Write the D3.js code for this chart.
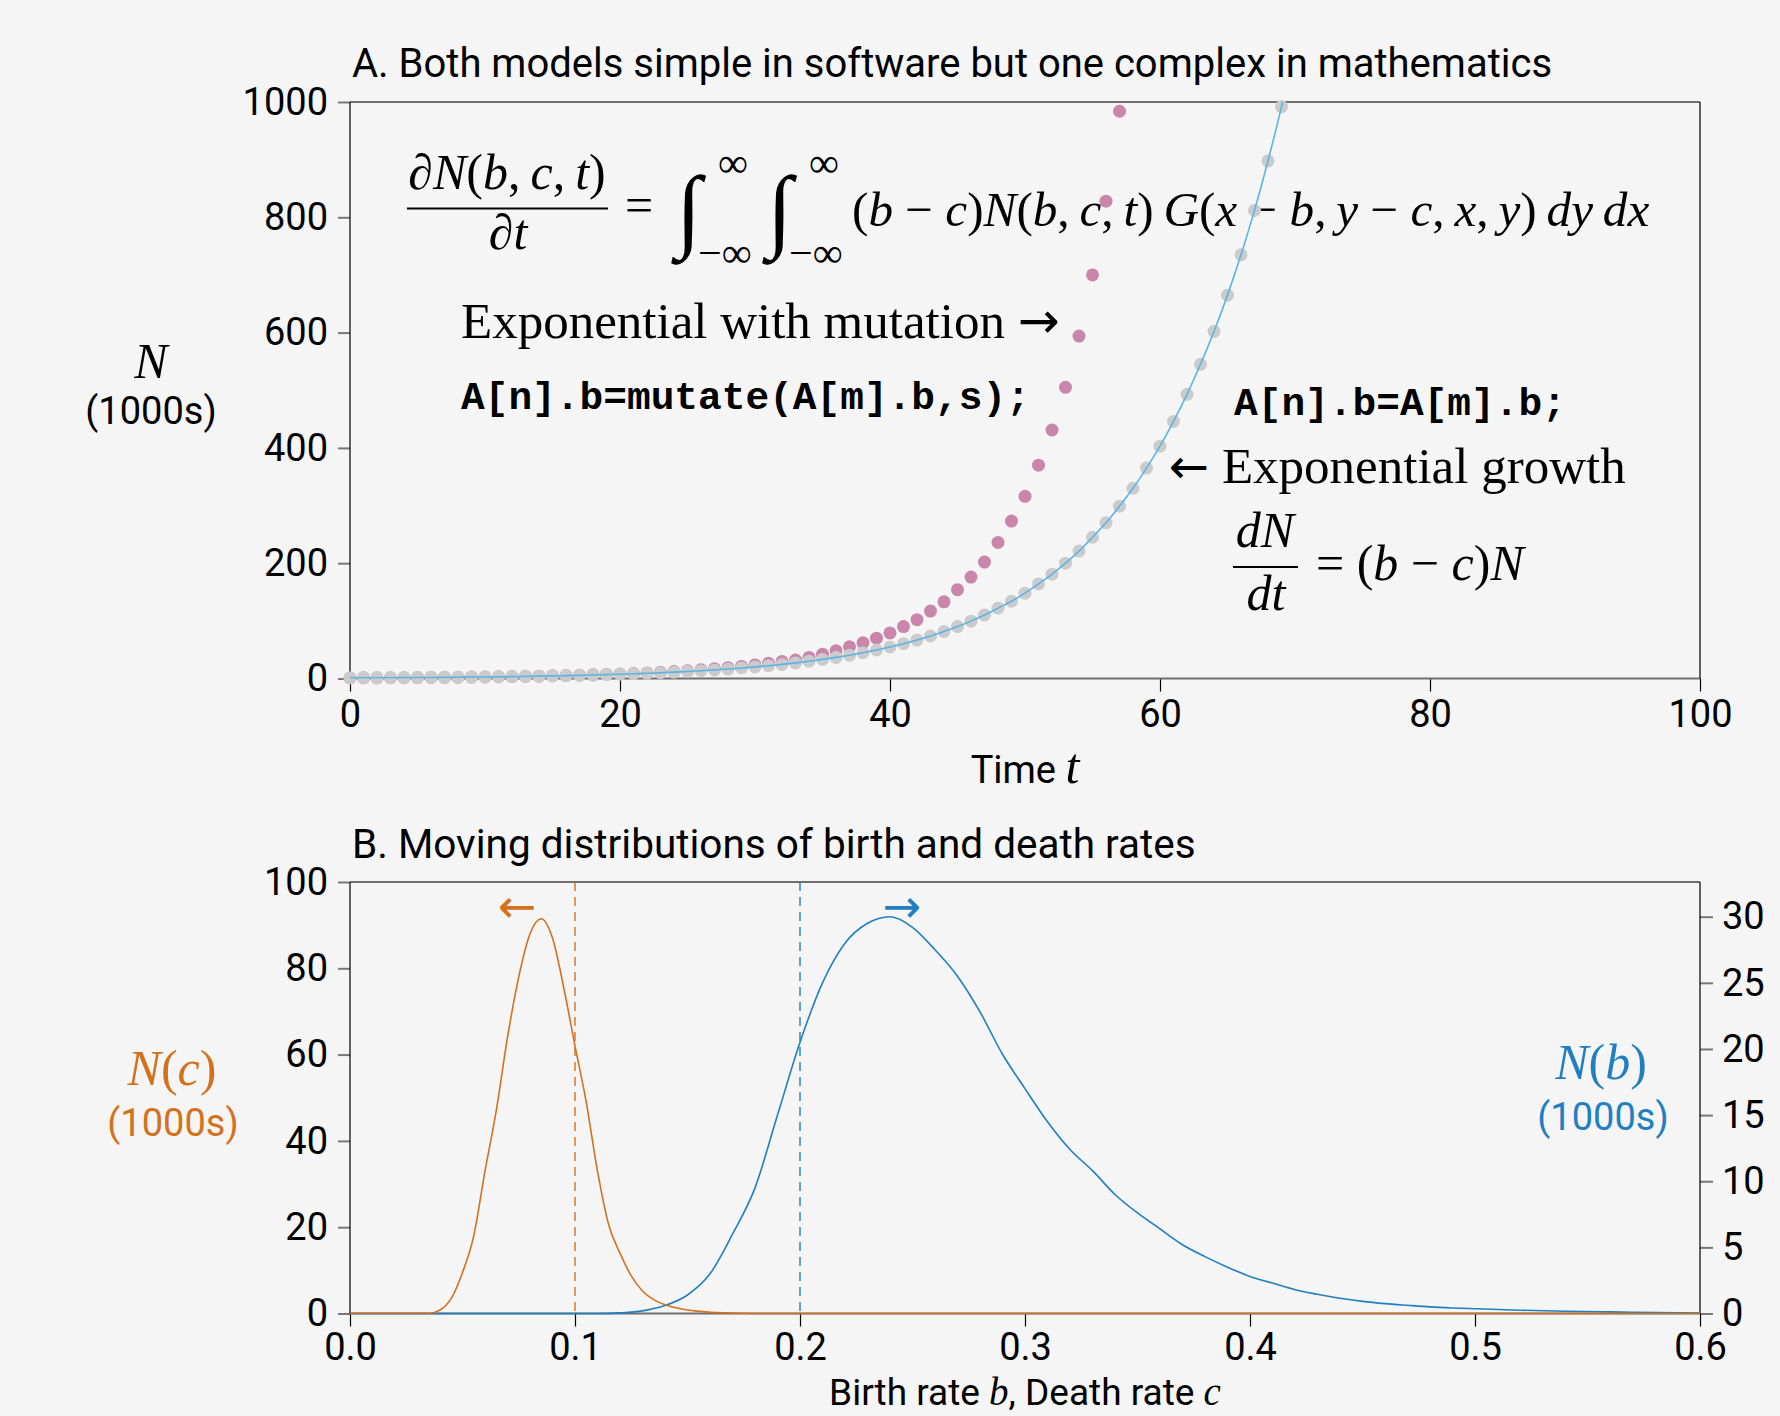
<!DOCTYPE html>
<html>
<head>
<meta charset="utf-8">
<script src="https://cdnjs.cloudflare.com/ajax/libs/d3/7.8.5/d3.min.js"></script>
<style>
  body { margin: 0; background: #f5f5f5; }
  svg { display: block; }
  text { white-space: pre; }
</style>
</head>
<body>
<div id="chart"></div>
<script>
// ---- data (index of each array = time step t) ----
// grey dots: simulated exponential growth, N in 1000s
var growthN = [1.0, 1.1, 1.2, 1.35, 1.5, 1.65, 1.8, 2.0, 2.2, 2.5, 2.7, 3.0, 3.3, 3.7, 4.1, 4.5, 5.0, 5.5, 6.0, 6.7,
  7.4, 8.2, 9.0, 10.0, 11.0, 12.2, 13.5, 14.9, 16.4, 18.2, 20.1, 22.2, 24.5, 27.1, 30.0, 33.1, 36.6, 40.4, 44.7, 49.4,
  54.6, 60.3, 66.7, 73.7, 81.5, 90.0, 99.5, 110, 122, 134, 148, 164, 181, 200, 221, 245, 270, 299, 330, 365,
  403, 446, 493, 545, 602, 665, 735, 812, 898, 992];
// pink dots: simulated exponential growth with mutation of b
var mutationN = [1.0, 1.1, 1.2, 1.35, 1.5, 1.65, 1.8, 2.0, 2.2, 2.5, 2.7, 3.0, 3.4, 3.7, 4.1, 4.6, 5.1, 5.6, 6.3, 7.0,
  7.8, 8.6, 9.6, 10.7, 12.0, 13.4, 15.0, 16.7, 18.8, 21.0, 23.6, 26.5, 29.5, 32, 36.5, 42, 48, 55, 62, 70,
  79, 90, 102, 117, 133, 154, 176, 202, 236, 273, 316, 370, 431, 505, 594, 700, 828, 984];
// blue line: dN/dt = (b - c)N solution, t = 0..70
var exactN = growthN.concat([1097]);

var yTicksA = [0, 200, 400, 600, 800, 1000];
var xTicksA = [0, 20, 40, 60, 80, 100];

// panel B: distributions (1000s)
var deathRates = [0, 0.035, 0.04, 0.045, 0.05, 0.055, 0.06, 0.065, 0.07, 0.075, 0.08, 0.085, 0.09, 0.095, 0.1,
  0.105, 0.11, 0.115, 0.12, 0.125, 0.13, 0.135, 0.14, 0.15, 0.16, 0.175, 0.185, 0.6];
var deathCounts = [0, 0, 0.8, 3.5, 9.5, 18, 33, 47, 64, 78, 88, 91.5, 87, 75.5, 62,
  49, 33, 20.5, 14, 8.7, 5.2, 3.2, 2.0, 0.8, 0.3, 0.05, 0, 0];
var birthRates = [0, 0.11, 0.12, 0.13, 0.14, 0.15, 0.16, 0.17, 0.18, 0.19, 0.2, 0.21, 0.22, 0.23, 0.24, 0.25, 0.26,
  0.27, 0.28, 0.29, 0.3, 0.31, 0.32, 0.33, 0.34, 0.35, 0.36, 0.37, 0.38, 0.39, 0.4, 0.41, 0.42, 0.43, 0.44, 0.45,
  0.46, 0.47, 0.48, 0.49, 0.5, 0.52, 0.54, 0.56, 0.58, 0.6];
var birthCounts = [0, 0, 0.05, 0.2, 0.6, 1.4, 3.0, 6.0, 9.5, 15.0, 20.5, 25.0, 28.0, 29.5, 30.0, 29.2, 27.5,
  25.5, 22.8, 19.6, 17.0, 14.5, 12.4, 10.8, 9.0, 7.6, 6.4, 5.2, 4.3, 3.5, 2.8, 2.3, 1.8, 1.45, 1.15, 0.92,
  0.75, 0.62, 0.5, 0.42, 0.36, 0.25, 0.17, 0.12, 0.08, 0.03];
var meanDeath = 0.1, meanBirth = 0.2;

var xTicksB = [0, 0.1, 0.2, 0.3, 0.4, 0.5, 0.6];
var leftTicksB = [0, 20, 40, 60, 80, 100];
var rightTicksB = [0, 5, 10, 15, 20, 25, 30];

// ---- styling ----
var sans = "Roboto, 'Open Sans', sans-serif";
var serif = "'Liberation Serif', 'DejaVu Serif', serif";
var mono = "'Liberation Mono', 'DejaVu Sans Mono', monospace";
var arrowFont = "'DejaVu Sans', sans-serif";
var orange = '#d4711d', blue = '#1f7fc1';
var tickFont = 38, mathFont = 50;

var svg = d3.select('#chart').append('svg').attr('width', 1780).attr('height', 1416);
svg.append('rect').attr('width', 1780).attr('height', 1416).attr('fill', '#f5f5f5');

// letters in italic, everything else upright (poor man's TeX)
function mathText(parent, x, y, str, size, anchor, color) {
  var t = parent.append('text').attr('x', x).attr('y', y)
    .attr('font-family', serif).attr('font-size', size)
    .attr('text-anchor', anchor || 'start').attr('fill', color || '#000');
  str.match(/[A-Za-z]+|[^A-Za-z]+/g).forEach(function (run) {
    t.append('tspan').attr('font-style', /[A-Za-z]/.test(run) ? 'italic' : 'normal').text(run);
  });
  return t;
}

function plainText(parent, x, y, str, size, family, anchor, color) {
  return parent.append('text').attr('x', x).attr('y', y)
    .attr('font-family', family).attr('font-size', size)
    .attr('text-anchor', anchor || 'start').attr('fill', color || '#000').text(str);
}

function frame(left, right, top, bottom) {
  svg.append('line').attr('x1', left).attr('x2', right).attr('y1', top).attr('y2', top)
    .attr('stroke', '#6e6e6e').attr('stroke-width', 2);
  svg.append('line').attr('x1', left).attr('x2', right).attr('y1', bottom).attr('y2', bottom)
    .attr('stroke', '#6e6e6e').attr('stroke-width', 2);
  svg.append('line').attr('x1', left).attr('x2', left).attr('y1', top).attr('y2', bottom)
    .attr('stroke', '#000').attr('stroke-width', 1.2);
  svg.append('line').attr('x1', right).attr('x2', right).attr('y1', top).attr('y2', bottom)
    .attr('stroke', '#000').attr('stroke-width', 1.2);
}

function styleAxis(g, tickColor, tickWidth) {
  g.select('.domain').remove();
  g.selectAll('.tick line').attr('stroke', tickColor).attr('stroke-width', tickWidth);
  g.selectAll('.tick text').attr('font-family', sans).attr('font-size', tickFont).attr('fill', '#000');
}

// ================= Panel A =================
var xA = d3.scaleLinear().domain([0, 100]).range([350, 1700]);
var yA = d3.scaleLinear().domain([0, 1000]).range([678.5, 102]);

plainText(svg, 352, 77, 'A. Both models simple in software but one complex in mathematics', 40, sans);

var axA = svg.append('g').attr('transform', 'translate(350,0)')
  .call(d3.axisLeft(yA).tickValues(yTicksA).tickFormat(d3.format('d')).tickSize(12).tickPadding(10));
styleAxis(axA, '#777', 2);
var axAx = svg.append('g').attr('transform', 'translate(0,678.5)')
  .call(d3.axisBottom(xA).tickValues(xTicksA).tickSize(13).tickPadding(9));
styleAxis(axAx, '#000', 1.2);
frame(350, 1700, 102, 678.5);

// axis labels
mathText(svg, 151, 378, 'N', mathFont, 'middle');
plainText(svg, 151, 424, '(1000s)', tickFont, sans, 'middle');
var tl = svg.append('text').attr('x', 1025).attr('y', 783).attr('text-anchor', 'middle')
  .attr('font-family', sans).attr('font-size', tickFont);
tl.append('tspan').text('Time ');
tl.append('tspan').attr('font-family', serif).attr('font-style', 'italic').attr('font-size', mathFont).text('t');

// big integro-differential equation
var eq = svg.append('g');
mathText(eq, 507, 189, '\u2202N(b,\u2009c,\u2009t)', mathFont, 'middle');
eq.append('line').attr('x1', 407).attr('x2', 608).attr('y1', 208.5).attr('y2', 208.5)
  .attr('stroke', '#000').attr('stroke-width', 2);
mathText(eq, 508, 249, '\u2202t', mathFont, 'middle');
mathText(eq, 625, 222, '=', mathFont);
[676, 767].forEach(function (x0) {
  plainText(eq, x0, 240, '\u222B', 92, serif);
  plainText(eq, x0 + 42, 177, '\u221E', 42, serif);
  plainText(eq, x0 + 22, 267, '\u2212\u221E', 42, serif);
});
mathText(eq, 852, 226, '(b \u2212 c)N(b,\u2009c,\u2009t)\u2009G(x \u2212 b,\u2009y \u2212 c,\u2009x,\u2009y)\u2009dy\u2009dx', 49.2);

// model annotations (words upright, arrows from DejaVu so they are long enough)
var ewm = plainText(svg, 461, 338, 'Exponential with mutation ', 51, serif);
ewm.append('tspan').attr('font-family', arrowFont).attr('font-size', 50).text('\u2192');
plainText(svg, 461, 409, 'A[n].b=mutate(A[m].b,s);', 39.5, mono).attr('font-weight', 'bold');
plainText(svg, 1234, 415, 'A[n].b=A[m].b;', 39.5, mono).attr('font-weight', 'bold');
var eg = svg.append('text').attr('x', 1169).attr('y', 483).attr('font-family', serif).attr('font-size', 51);
eg.append('tspan').attr('font-family', arrowFont).attr('font-size', 48).text('\u2190');
eg.append('tspan').text(' Exponential growth');
mathText(svg, 1265, 547, 'dN', mathFont, 'middle');
svg.append('line').attr('x1', 1233).attr('x2', 1298).attr('y1', 567).attr('y2', 567)
  .attr('stroke', '#000').attr('stroke-width', 2);
mathText(svg, 1266, 610, 'dt', mathFont, 'middle');
mathText(svg, 1316, 580, '= (b \u2212 c)N', mathFont);

// points and curve
svg.append('clipPath').attr('id', 'clipA').append('rect')
  .attr('x', 350).attr('y', 102).attr('width', 1350).attr('height', 576.5);

svg.append('g').selectAll('circle').data(mutationN).enter().append('circle')
  .attr('cx', function (d, i) { return xA(i); })
  .attr('cy', function (d) { return yA(d); })
  .attr('r', 6.5).attr('fill', '#c986aa');
svg.append('g').selectAll('circle').data(growthN).enter().append('circle')
  .attr('cx', function (d, i) { return xA(i); })
  .attr('cy', function (d) { return yA(d); })
  .attr('r', 6.5).attr('fill', '#cbcbcb');
svg.append('path').datum(exactN)
  .attr('clip-path', 'url(#clipA)')
  .attr('fill', 'none').attr('stroke', '#5bb4e6').attr('stroke-width', 1.6)
  .attr('d', d3.line().x(function (d, i) { return xA(i); }).y(function (d) { return yA(d); }).curve(d3.curveMonotoneX));

// ================= Panel B =================
var xB = d3.scaleLinear().domain([0, 0.6]).range([350, 1700]);
var yBL = d3.scaleLinear().domain([0, 100]).range([1313.5, 882]);
var yBR = d3.scaleLinear().domain([0, 30]).range([1313.5, 916.7]);

plainText(svg, 352, 858, 'B. Moving distributions of birth and death rates', 40.5, sans);

var axBL = svg.append('g').attr('transform', 'translate(350,0)')
  .call(d3.axisLeft(yBL).tickValues(leftTicksB).tickSize(12).tickPadding(10));
styleAxis(axBL, '#777', 2);
var axBR = svg.append('g').attr('transform', 'translate(1700,0)')
  .call(d3.axisRight(yBR).tickValues(rightTicksB).tickSize(13).tickPadding(9));
styleAxis(axBR, '#777', 2);
var axBx = svg.append('g').attr('transform', 'translate(0,1313.5)')
  .call(d3.axisBottom(xB).tickValues(xTicksB).tickFormat(d3.format('.1f')).tickSize(13).tickPadding(7));
styleAxis(axBx, '#000', 1.2);
frame(350, 1700, 882, 1313.5);

// initial mean rates
svg.append('line').attr('x1', xB(meanDeath)).attr('x2', xB(meanDeath)).attr('y1', 882).attr('y2', 1313.5)
  .attr('stroke', orange).attr('stroke-width', 1.4).attr('stroke-dasharray', '9,6');
svg.append('line').attr('x1', xB(meanBirth)).attr('x2', xB(meanBirth)).attr('y1', 882).attr('y2', 1313.5)
  .attr('stroke', blue).attr('stroke-width', 1.4).attr('stroke-dasharray', '9,6');

svg.append('path').datum(d3.zip(birthRates, birthCounts))
  .attr('fill', 'none').attr('stroke', blue).attr('stroke-width', 1.6)
  .attr('d', d3.line().x(function (d) { return xB(d[0]); }).y(function (d) { return yBR(d[1]); }).curve(d3.curveMonotoneX));
svg.append('path').datum(d3.zip(deathRates, deathCounts))
  .attr('fill', 'none').attr('stroke', orange).attr('stroke-width', 1.6)
  .attr('d', d3.line().x(function (d) { return xB(d[0]); }).y(function (d) { return yBL(d[1]); }).curve(d3.curveMonotoneX));

plainText(svg, 517, 922, '\u2190', 46, arrowFont, 'middle', orange);
plainText(svg, 902, 922, '\u2192', 46, arrowFont, 'middle', blue);

mathText(svg, 172, 1085, 'N(c)', mathFont, 'middle', orange);
plainText(svg, 173, 1136, '(1000s)', tickFont, sans, 'middle', orange);
mathText(svg, 1601, 1079, 'N(b)', mathFont, 'middle', blue);
plainText(svg, 1603, 1130, '(1000s)', tickFont, sans, 'middle', blue);

// x label sits at the very bottom edge, kept just inside it
var bl = svg.append('text').attr('x', 1025).attr('y', 1405).attr('text-anchor', 'middle')
  .attr('font-family', sans).attr('font-size', 37);
bl.append('tspan').text('Birth rate ');
bl.append('tspan').attr('font-family', serif).attr('font-style', 'italic').attr('font-size', 39).text('b');
bl.append('tspan').text(', Death rate ');
bl.append('tspan').attr('font-family', serif).attr('font-style', 'italic').attr('font-size', 39).text('c');
</script>
</body>
</html>
